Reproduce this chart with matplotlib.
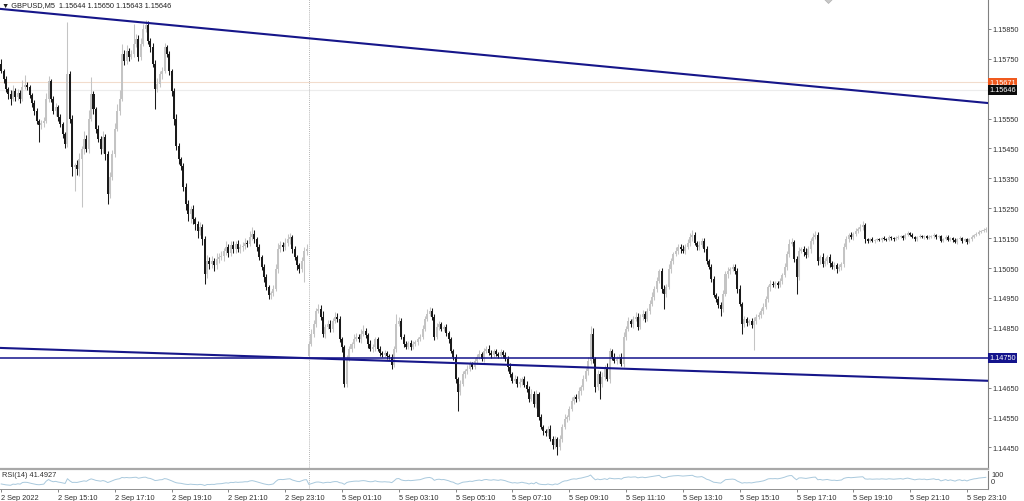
import numpy as np
import matplotlib
matplotlib.use("Agg")
import matplotlib.pyplot as plt

# ---------------- data ----------------
header_text = "\u25BC GBPUSD,M5  1.15644 1.15650 1.15643 1.15646"
rsi_text = "RSI(14) 41.4927"

# closes in points above 1.14000 (1 point = 0.00001)
closes_pts = [
    1709, 1682, 1649, 1632, 1616, 1642, 1622, 1636, 1616, 1656,
    1662, 1656, 1629, 1602, 1575, 1542, 1529, 1535, 1542, 1616,
    1676, 1616, 1575, 1589, 1555, 1532, 1499, 1465, 1699, 1549,
    1388, 1395, 1382, 1415, 1448, 1482, 1448, 1549, 1632, 1582,
    1515, 1482, 1448, 1489, 1432, 1298, 1355, 1432, 1515, 1575,
    1616, 1766, 1743, 1776, 1756, 1766, 1800, 1816, 1756, 1800,
    1850, 1863, 1810, 1789, 1733, 1649, 1666, 1699, 1709, 1789,
    1766, 1709, 1642, 1549, 1458, 1415, 1392, 1321, 1264, 1231,
    1248, 1214, 1198, 1174, 1188, 1147, 1030, 1074, 1064, 1074,
    1060, 1081, 1087, 1091, 1107, 1121, 1101, 1127, 1114, 1131,
    1114, 1121, 1124, 1134, 1131, 1154, 1164, 1147, 1121, 1087,
    1054, 1020, 987, 960, 967, 980, 1047, 1114, 1127, 1121,
    1134, 1147, 1154, 1114, 1087, 1060, 1047, 1074, 1107, 1114,
    796, 830, 863, 907, 913, 887, 830, 853, 863, 847,
    873, 887, 880, 813, 786, 663, 746, 780, 796, 813,
    820, 813, 830, 840, 826, 796, 780, 786, 813, 780,
    766, 760, 766, 756, 753, 726, 780, 863, 873, 820,
    796, 786, 800, 786, 796, 803, 813, 820, 847, 880,
    897, 907, 887, 820, 853, 863, 847, 853, 833, 813,
    773, 753, 679, 636, 663, 696, 706, 713, 729, 719,
    739, 753, 763, 746, 773, 780, 766, 760, 773, 763,
    756, 770, 760, 746, 719, 696, 673, 679, 663, 669,
    679, 659, 646, 612, 629, 596, 629, 552, 519, 505,
    499, 512, 479, 459, 479, 452, 479, 519, 546, 552,
    579, 606, 619, 612, 639, 652, 679, 706, 739, 830,
    746, 652, 696, 663, 686, 719, 679, 773, 753, 739,
    746, 753, 729, 820, 847, 873, 863, 880, 887, 853,
    887, 897, 880, 907, 930, 954, 980, 1007, 1040, 980,
    964, 987, 1047, 1074, 1097, 1107, 1121, 1114, 1107, 1121,
    1134, 1154, 1161, 1134, 1121, 1127, 1141, 1114, 1074, 1054,
    1014, 960, 947, 927, 913, 964, 1030, 1040, 1047, 1054,
    1040, 980, 930, 863, 880, 867, 873, 860, 873, 887,
    893, 907, 920, 947, 987, 997, 994, 1000, 994, 1007,
    1027, 1054, 1097, 1131, 1137, 1081, 1020, 1107, 1114, 1104,
    1094, 1114, 1141, 1154, 1161, 1074, 1087, 1064, 1074, 1087,
    1067, 1054, 1060, 1047, 1054, 1064, 1121, 1147, 1161, 1154,
    1164, 1174, 1181, 1188, 1194, 1147, 1141, 1147, 1141, 1144,
    1147, 1144, 1151, 1147, 1144, 1154, 1151, 1147, 1151, 1154,
    1157, 1151, 1161, 1167, 1161, 1154, 1147, 1154, 1157, 1154,
    1157, 1151, 1154, 1157, 1161, 1154, 1157, 1141, 1147, 1154,
    1144, 1151, 1144, 1137, 1147, 1151, 1141, 1147, 1137, 1147,
    1154, 1161, 1164, 1171, 1174, 1178, 1181,
]

# wick lengths in points beyond the candle body
upper_wick_pts = [
    15, 8, 10, 6, 12, 20, 9, 14, 8, 22,
    35, 10, 8, 6, 9, 12, 7, 10, 14, 20,
    18, 8, 10, 12, 6, 9, 8, 6, 174, 10,
    12, 8, 15, 20, 10, 25, 12, 30, 57, 10,
    8, 12, 10, 20, 9, 10, 15, 12, 20, 25,
    30, 33, 12, 20, 10, 15, 67, 18, 12, 20,
    15, 17, 12, 10, 15, 12, 20, 10, 15, 13,
    8, 10, 6, 10, 15, 12, 8, 10, 12, 15,
    10, 12, 8, 10, 15, 8, 10, 20, 12, 15,
    10, 18, 12, 15, 10, 20, 8, 12, 15, 10,
    14, 10, 12, 18, 10, 20, 25, 12, 8, 10,
    6, 8, 10, 8, 6, 12, 15, 20, 12, 10,
    15, 18, 12, 8, 10, 8, 6, 12, 15, 18,
    10, 15, 12, 10, 17, 12, 20, 10, 15, 12,
    10, 15, 12, 10, 8, 6, 12, 10, 8, 15,
    12, 10, 15, 20, 10, 8, 12, 10, 8, 6,
    8, 6, 10, 8, 6, 8, 10, 33, 12, 10,
    8, 10, 6, 8, 10, 8, 6, 10, 12, 10,
    15, 13, 10, 8, 12, 10, 8, 6, 10, 8,
    6, 8, 10, 8, 12, 10, 8, 12, 10, 8,
    10, 8, 12, 6, 10, 8, 12, 10, 8, 6,
    8, 10, 6, 8, 10, 12, 8, 15, 10, 12,
    8, 10, 12, 8, 15, 10, 12, 8, 10, 6,
    8, 10, 12, 8, 10, 6, 12, 10, 15, 8,
    10, 12, 8, 10, 12, 8, 15, 10, 12, 27,
    20, 8, 12, 10, 15, 8, 12, 10, 8, 12,
    10, 8, 12, 15, 10, 12, 8, 10, 15, 12,
    10, 12, 8, 10, 12, 15, 10, 12, 8, 10,
    12, 10, 15, 10, 8, 12, 10, 8, 12, 10,
    12, 15, 17, 10, 8, 12, 10, 8, 10, 6,
    8, 10, 6, 8, 10, 12, 10, 15, 8, 10,
    8, 10, 12, 8, 10, 6, 8, 10, 12, 8,
    10, 8, 12, 10, 8, 12, 10, 8, 6, 10,
    8, 12, 10, 15, 12, 8, 10, 12, 8, 10,
    12, 10, 8, 15, 12, 10, 8, 12, 10, 8,
    10, 8, 12, 6, 10, 8, 12, 10, 8, 10,
    8, 10, 6, 8, 15, 6, 5, 4, 6, 3,
    4, 5, 3, 6, 4, 5, 3, 4, 5, 6,
    4, 3, 5, 6, 4, 5, 3, 4, 6, 5,
    3, 4, 5, 3, 6, 4, 5, 3, 4, 5,
    6, 4, 3, 5, 4, 6, 3, 5, 4, 3,
    5, 4, 6, 5, 4, 6, 5,
]
lower_wick_pts = [
    8, 12, 10, 15, 20, 8, 12, 10, 15, 6,
    8, 12, 10, 14, 12, 10, 57, 15, 12, 8,
    10, 12, 8, 15, 12, 10, 15, 12, 10, 15,
    30, 80, 20, 25, 160, 15, 10, 12, 8, 15,
    12, 10, 15, 12, 20, 33, 15, 10, 12, 8,
    12, 8, 15, 10, 12, 8, 10, 12, 15, 10,
    8, 12, 10, 15, 12, 67, 10, 12, 15, 8,
    10, 12, 15, 20, 12, 18, 15, 12, 20, 25,
    30, 15, 20, 25, 15, 20, 33, 12, 18, 15,
    20, 12, 15, 10, 18, 12, 15, 10, 12, 15,
    10, 12, 15, 10, 12, 8, 10, 12, 15, 10,
    12, 15, 10, 13, 12, 10, 8, 12, 10, 15,
    12, 10, 15, 12, 10, 15, 12, 10, 70, 12,
    5, 8, 12, 10, 8, 12, 10, 15, 8, 12,
    10, 8, 12, 10, 15, 10, 12, 8, 10, 12,
    8, 10, 12, 8, 10, 12, 8, 10, 12, 8,
    10, 6, 8, 10, 6, 12, 8, 10, 6, 8,
    10, 8, 6, 10, 8, 6, 10, 8, 6, 8,
    6, 8, 10, 12, 8, 10, 6, 8, 10, 12,
    8, 10, 12, 64, 10, 8, 12, 10, 8, 6,
    8, 10, 6, 8, 10, 8, 6, 10, 8, 6,
    8, 6, 10, 8, 12, 10, 8, 6, 10, 12,
    10, 8, 12, 10, 8, 12, 15, 10, 8, 12,
    10, 12, 8, 15, 10, 27, 12, 10, 8, 12,
    10, 8, 12, 10, 8, 12, 10, 8, 12, 10,
    12, 15, 10, 50, 12, 10, 8, 12, 10, 8,
    10, 12, 8, 10, 12, 8, 10, 12, 8, 10,
    8, 10, 12, 8, 10, 8, 12, 10, 8, 12,
    50, 10, 8, 12, 10, 8, 10, 12, 8, 10,
    8, 10, 12, 8, 10, 12, 8, 10, 12, 8,
    10, 8, 12, 10, 23, 10, 8, 12, 10, 8,
    10, 12, 8, 33, 10, 12, 8, 10, 84, 10,
    8, 10, 12, 8, 10, 12, 8, 10, 12, 8,
    10, 8, 12, 10, 8, 12, 57, 10, 8, 12,
    10, 8, 12, 10, 8, 15, 10, 12, 8, 10,
    12, 8, 10, 12, 8, 10, 12, 8, 10, 8,
    10, 8, 6, 8, 10, 12, 6, 4, 5, 6,
    5, 4, 6, 3, 5, 4, 6, 5, 3, 4,
    5, 6, 4, 3, 5, 4, 6, 5, 3, 4,
    6, 5, 4, 3, 5, 6, 4, 5, 3, 4,
    5, 4, 6, 3, 5, 4, 6, 3, 5, 4,
    6, 5, 4, 3, 5, 4, 6,
]

first_open_pts = 1733      # open of first visible bar (2 Sep 13:10)
monday_open_pts = 756      # gap open of 5 Sep 00:00 bar
monday_start_bar = 130

time_label_bars = [0, 24, 48, 72, 96, 120, 144, 168, 192, 216, 240, 264,
                   288, 312, 336, 360, 384, 408]
time_labels = ["2 Sep 2022", "2 Sep 15:10", "2 Sep 17:10", "2 Sep 19:10",
               "2 Sep 21:10", "2 Sep 23:10", "5 Sep 01:10", "5 Sep 03:10",
               "5 Sep 05:10", "5 Sep 07:10", "5 Sep 09:10", "5 Sep 11:10",
               "5 Sep 13:10", "5 Sep 15:10", "5 Sep 17:10", "5 Sep 19:10",
               "5 Sep 21:10", "5 Sep 23:10"]

price_ticks = [1.14450, 1.14550, 1.14650, 1.14750, 1.14850, 1.14950, 1.15050,
               1.15150, 1.15250, 1.15350, 1.15450, 1.15550, 1.15650, 1.15750,
               1.15850]
price_tick_labels = ["1.14450", "1.14550", "1.14650", "", "1.14850", "1.14950",
                     "1.15050", "1.15150", "1.15250", "1.15350", "1.15450",
                     "1.15550", "", "1.15750", "1.15850"]

ask_price = 1.15671
bid_price = 1.15646
hline_price = 1.14750
upper_trend_bars = [-0.5, 416.9]
upper_trend_prices = [1.15917, 1.15602]
lower_trend_bars = [-0.5, 416.9]
lower_trend_prices = [1.14783, 1.14673]
object_marker_bar = 349.5
object_marker_price = 1.15950

y_min, y_max = 1.14378, 1.15950

# ---------------- build OHLC ----------------
base = 1.14
closes = base + np.array(closes_pts) / 1e5
opens = np.empty_like(closes)
opens[0] = base + first_open_pts / 1e5
opens[1:] = closes[:-1]
opens[monday_start_bar] = base + monday_open_pts / 1e5
highs = np.maximum(opens, closes) + np.array(upper_wick_pts) / 1e5
lows = np.minimum(opens, closes) - np.array(lower_wick_pts) / 1e5
n = len(closes)
idx = np.arange(n)

# RSI(14), Wilder smoothing
delta = np.diff(closes, prepend=closes[0])
gain = np.clip(delta, 0, None)
loss = np.clip(-delta, 0, None)
ag = np.empty(n); al = np.empty(n)
ag[0] = gain[1:15].mean(); al[0] = loss[1:15].mean()
for k in range(1, n):
    ag[k] = (ag[k - 1] * 13 + gain[k]) / 14
    al[k] = (al[k - 1] * 13 + loss[k]) / 14
rsi = 100 - 100 / (1 + ag / np.maximum(al, 1e-12))

# ---------------- figure ----------------
plt.rcParams['font.family'] = ['Liberation Sans', 'DejaVu Sans']
FS = 5.3
W, H = 1024, 502
fig = plt.figure(figsize=(W / 100, H / 100), dpi=100)
fig.patch.set_facecolor("white")

ax = fig.add_axes([0, 32 / H, 988 / W, 470 / H])
ax2 = fig.add_axes([0, 12 / H, 988 / W, 18 / H])

bull_c = "#c4c4c4"
bear_c = "#1a1a1a"
bull = closes >= opens
bear = ~bull
ax.vlines(idx[bull], lows[bull], highs[bull], color=bull_c, lw=0.75, zorder=2)
ax.vlines(idx[bear], lows[bear], highs[bear], color=bear_c, lw=0.75, zorder=2)
body_h = np.maximum(np.abs(closes - opens), 0.000015)
body_b = np.minimum(opens, closes)
ax.bar(idx[bull], body_h[bull], bottom=body_b[bull], width=0.85,
       color=bull_c, linewidth=0, zorder=3)
ax.bar(idx[bear], body_h[bear], bottom=body_b[bear], width=0.85,
       color=bear_c, linewidth=0, zorder=3)

# price lines
ax.axhline(ask_price, color="#f2dccc", lw=0.8, zorder=1)
ax.axhline(bid_price, color="#ececec", lw=0.8, zorder=1)
ax.axhline(hline_price, color="#14148c", lw=1.1, zorder=4)
ax.plot(upper_trend_bars, upper_trend_prices, color="#16168a", lw=1.5, zorder=4)
ax.plot(lower_trend_bars, lower_trend_prices, color="#16168a", lw=1.5, zorder=4)

# small grey object marker at the top edge
ax.plot([object_marker_bar], [object_marker_price], marker="D", ms=4.5,
        color="#c8c8c8", mec="#b0b0b0", mew=0.5, zorder=5, clip_on=True)

# day separator
for a in (ax, ax2):
    a.axvline(monday_start_bar - 0.1, color="#9a9a9a", lw=0.6,
              ls=(0, (1, 1.5)), zorder=1)

ax.set_xlim(-0.5, 416.9)
ax.set_ylim(y_min, y_max)
ax.set_xticks([])
ax.yaxis.tick_right()
ax.set_yticks(price_ticks)
ax.set_yticklabels(price_tick_labels)
ax.tick_params(axis="y", length=2, width=0.6, color="#707070", pad=1.5,
               labelsize=FS, labelcolor="#303030")
for s in ("left", "top"):
    ax.spines[s].set_visible(False)
ax.spines["right"].set_color("#808080")
ax.spines["right"].set_linewidth(0.8)
ax.spines["bottom"].set_color("#a8a8a8")
ax.spines["bottom"].set_linewidth(1.6)

# value tags on price axis
tag_kw = dict(xycoords=("axes fraction", "data"), fontsize=FS, color="white",
              va="center", ha="left", annotation_clip=False, zorder=10)
ax.annotate("1.15671", xy=(1.0015, ask_price),
            bbox=dict(boxstyle="square,pad=0.18", fc="#f05a1e", ec="none"), **tag_kw)
ax.annotate("1.15646", xy=(1.0015, bid_price),
            bbox=dict(boxstyle="square,pad=0.18", fc="#0c0c0c", ec="none"), **tag_kw)
ax.annotate("1.14750", xy=(1.0015, hline_price),
            bbox=dict(boxstyle="square,pad=0.18", fc="#14148c", ec="none"), **tag_kw)

# RSI panel
ax2.plot(idx, rsi, color="#a9c9dd", lw=0.7, zorder=2)
ax2.set_xlim(-0.5, 416.9)
ax2.set_ylim(0, 100)
ax2.set_yticks([])
ax2.set_xticks(time_label_bars)
ax2.set_xticklabels(time_labels, ha="left")
ax2.tick_params(axis="x", length=2, width=0.6, color="#707070", pad=1.5,
                labelsize=FS, labelcolor="#303030")
for s in ("left", "top"):
    ax2.spines[s].set_visible(False)
ax2.spines["right"].set_color("#808080")
ax2.spines["right"].set_linewidth(0.8)
ax2.spines["bottom"].set_color("#909090")
ax2.spines["bottom"].set_linewidth(0.7)
ax2.text(0.002, 0.82, rsi_text, transform=ax2.transAxes, fontsize=FS,
         color="#303030", va="center", ha="left")
ax2.text(1.003, 0.78, "100", transform=ax2.transAxes, fontsize=FS,
         color="#303030", va="center", ha="left")
ax2.text(1.003, 0.42, "0", transform=ax2.transAxes, fontsize=FS,
         color="#303030", va="center", ha="left")

fig.text(2 / W, 1 - 5.5 / H, header_text, fontsize=FS, color="#202020",
         va="center", ha="left")

fig.savefig("out.png", dpi=100)
